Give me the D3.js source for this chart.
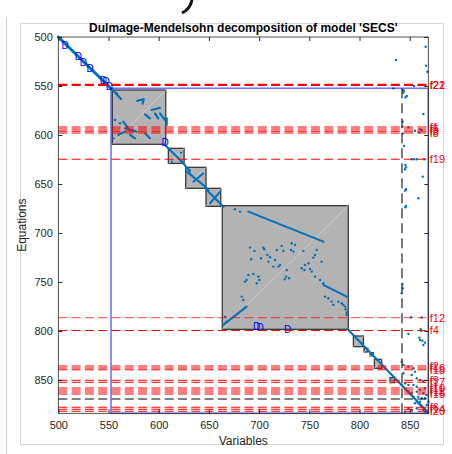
<!DOCTYPE html>
<html>
<head>
<meta charset="utf-8">
<script src="https://cdn.jsdelivr.net/npm/d3@7"></script>
<style>
  html, body { margin: 0; padding: 0; background: #fff; }
  svg { display: block; font-family: "Liberation Sans", Arial, Helvetica, sans-serif; }
</style>
</head>
<body>
<div id="chart"></div>
<script>
// axis ticks
const xTicks = [500, 550, 600, 650, 700, 750, 800, 850];
const yTicks = [500, 550, 600, 650, 700, 750, 800, 850];

// fine blocks of the decomposition: [colStart, colEnd, rowStart, rowEnd]
const blocks = [
  [553.8, 607, 554.1, 609.5],
  [609.6, 625.3, 613.6, 629],
  [626.9, 647.1, 633, 654.4],
  [647.1, 661.8, 654.4, 672.8],
  [663.3, 788.8, 672.1, 798.3],
  [793.9, 803.9, 805.1, 816],
  [804.5, 808.2, 817.7, 821.4],
  [810.5, 813.8, 822.1, 825.5],
  [814.8, 822.1, 828.9, 838.1],
  [830.4, 834.7, 847.6, 852.7]
];

// coarse (square) block outline: [colStart, colEnd, rowStart, rowEnd]
const coarseBlock = [552.5, 868.5, 552.3, 884];

// dense runs of nonzeros: [col0, row0, col1, row1]
const runs = [
  [500, 500, 552, 552],
  [553.2, 553.1, 562.5, 563.3],
  [578.5, 565, 585, 563.5],
  [585, 563.5, 584, 568],
  [593, 574.5, 601.3, 572.2],
  [596.3, 577.9, 599.6, 583],
  [601.3, 577.9, 606.3, 584.7],
  [586.4, 578.9, 591.3, 583],
  [564.7, 586.4, 569.7, 593.2],
  [566.4, 593.2, 578.1, 596.6],
  [559.8, 600, 566.4, 596.6],
  [571.4, 600, 576.4, 603.4],
  [586.4, 598.3, 591.3, 603.4],
  [608, 583, 608, 589.8],
  [606.3, 610.2, 611.3, 615.3],
  [611.3, 615.3, 624.6, 628.9],
  [624.6, 628.9, 631.2, 637.4],
  [627.9, 637.4, 646.2, 652.6],
  [634.5, 647.7, 644.4, 639.1],
  [646.1, 652.7, 649.4, 656.1],
  [647.8, 656.1, 662.7, 671.4],
  [651.1, 669.7, 661, 657.9],
  [689.3, 678.2, 764, 708.8],
  [664.4, 793.8, 687.6, 775.1],
  [764, 753, 787.2, 764.9],
  [788.5, 798.5, 868.5, 883.5],
  [857, 872, 868, 883]
];

// single nonzeros: [col, row]
const nonzeros = [
  [664.4, 673.1], [676, 675.8], [681, 678.2],
  [691, 714.9], [695.3, 718.3], [692, 726.8], [704.2, 714.9], [705.2, 716.6],
  [701.9, 725.8], [708.2, 722.4], [710.9, 724.8], [709.2, 729.2], [717.5, 717.3],
  [715.9, 727.5], [714.2, 734.3], [722.5, 713.2], [724.2, 718.3], [720.8, 732.6],
  [727.5, 737.7], [719.2, 734.3], [732.5, 710.5], [735.8, 712.2], [734.1, 719],
  [731.8, 717.3], [744.1, 718.3], [745.7, 732.6], [745.1, 737.7], [742.4, 736],
  [749.1, 730.9], [750.7, 736.7], [755.7, 722.4], [757.4, 717.3], [754, 725.1],
  [762.3, 729.2], [726.8, 744.5], [729.8, 746.2], [725.5, 747.2],
  [689.3, 742.8], [694.3, 741.8], [686, 749.6], [687.6, 747.9], [699.3, 744.5],
  [700.3, 747.9], [697.6, 751.3], [752.4, 739.4], [755.7, 744.5], [760.7, 747.9],
  [764, 751.3], [765.7, 764.9], [769, 766.6], [772.3, 770], [774, 773.4],
  [778.9, 770], [782.3, 771.7], [783.9, 773.4], [785.6, 775.1], [786.2, 777.8],
  [787.2, 781.2], [787.2, 783.6], [666.1, 785.3], [667.7, 790.4], [682.7, 764.9],
  [684.3, 768.3], [556.5, 584.7], [561.5, 588], [554.8, 603.4], [558.2, 557.4],
  [613, 627.2], [622.2, 618], [630.5, 635.7],
  [865.9, 509.9], [836.4, 523.5], [866.3, 529.3], [867.6, 535.4], [833.7, 552.4],
  [854.3, 550], [843, 554.1], [844.3, 554.8], [843.7, 556.8], [847, 560.2],
  [845.7, 561.6], [863.6, 578.6], [843, 586.4], [842.7, 591.5], [848.7, 592.2],
  [855.3, 595.6], [860.3, 594.2], [862, 594.9], [859.3, 597.3], [843, 598.3],
  [844.3, 611.2], [852, 624.8], [854.3, 624.8], [857, 624.8], [864.3, 624.8],
  [845.7, 630.6], [846.3, 633], [845.4, 635], [863, 642.5], [846.3, 655.4],
  [845.4, 656.8], [858.6, 664.6], [846.3, 672.4], [845.7, 673.8], [842.7, 752],
  [843, 756.4], [842, 761.5], [851.3, 786], [861.9, 786.3], [860.9, 798.2],
  [848.7, 803.1], [861.3, 799.7], [860.3, 809.2], [863.6, 814.3], [859.6, 806.8],
  [862.6, 809.9], [865.2, 811.9],
  [842, 831.3], [843.7, 834.7], [848.7, 836.4], [853.7, 838.1], [855.3, 841.5],
  [852, 844.9], [857, 848.3], [860.3, 850], [863.6, 851.7], [865.3, 858.5],
  [848.7, 861.9], [852, 863.6], [857, 861.9], [853.7, 867], [858.6, 867],
  [862, 868.7], [865.3, 868.7], [860.3, 872.1], [855.3, 873.8], [866.9, 875.5],
  [848.7, 878.9], [852, 880.6], [857, 878.9], [863.6, 880.6], [845.4, 882.3],
  [865.3, 882.3], [843.7, 843.2], [842, 855.1], [845.4, 853.4], [848.7, 855.1],
  [853.7, 855.1], [857, 856.8], [860.3, 860.2], [863.6, 863.6], [866.9, 865.3],
  [868.6, 872.1]
];

// "D" markers: [col, row]
const dMarks = [
  [506.7, 508.2], [519.9, 520.1], [524.9, 525.8], [531.6, 531.9], [544.8, 543.9],
  [547.5, 545.6], [550.8, 550.7], [606.3, 607.9], [697.6, 795.5], [700.9, 796.2],
  [728.5, 798.2]
];

// red dashed rows and their names
const fRows = [548.5, 549.2, 591.8, 593.9, 596, 598, 624.8, 786.4, 799.5, 835.7, 837.8,
  839.5, 850.3, 852.3, 858.2, 860.2, 862.2, 864.3, 877.9, 879.9, 881.9];
const fNames = ["f21", "f22", "f1", "f5", "f3", "f8", "f19", "f12", "f4", "f2", "f16",
  "f18", "f9", "f17", "f10", "f11", "f13", "f15", "f6", "f14", "f20"];

// black dashed separators
const sepRow = 869.4;
const sepCol = 842.3;

const width = 452, height = 454;
const plot = { left: 58.3, right: 428.3, top: 37, bottom: 413.3 };

const x = d3.scaleLinear().domain([500, 868.5]).range([plot.left, plot.right]);
const y = d3.scaleLinear().domain([500, 884]).range([plot.top, plot.bottom]);

const svg = d3.select("#chart").append("svg")
  .attr("width", width)
  .attr("height", height);

// window frame
svg.append("line").attr("x1", 6.5).attr("x2", 6.5).attr("y1", 18).attr("y2", height)
  .attr("stroke", "#c8c8c8");
svg.append("rect").attr("x", 20.5).attr("y", 23.5).attr("width", 423).attr("height", 421)
  .attr("fill", "#fff").attr("stroke", "#d4d4d4");
svg.append("path").attr("d", "M192,0 C191,5 188,10 182,13")
  .attr("fill", "none").attr("stroke", "#111").attr("stroke-width", 3);

const g = svg.append("g");

// gray blocks
g.selectAll("rect.block").data(blocks).enter().append("rect")
  .attr("class", "block")
  .attr("x", d => x(d[0]))
  .attr("y", d => y(d[2]))
  .attr("width", d => x(d[1]) - x(d[0]))
  .attr("height", d => y(d[3]) - y(d[2]))
  .attr("fill", "#b3b3b3")
  .attr("stroke", "#3a3a3a")
  .attr("stroke-width", 1.3);

g.selectAll("line.anti").data(blocks).enter().append("line")
  .attr("x1", d => x(d[1])).attr("y1", d => y(d[2]))
  .attr("x2", d => x(d[0])).attr("y2", d => y(d[3]))
  .attr("stroke", "#d6d6d6").attr("stroke-width", 0.7);

// nonzeros
g.selectAll("line.run").data(runs).enter().append("line")
  .attr("x1", d => x(d[0])).attr("y1", d => y(d[1]))
  .attr("x2", d => x(d[2])).attr("y2", d => y(d[3]))
  .attr("stroke", "#0072BD")
  .attr("stroke-width", (d, i) => i === 0 ? 3 : 2.1)
  .attr("stroke-linecap", "round");

g.selectAll("circle.nz").data(nonzeros).enter().append("circle")
  .attr("cx", d => x(d[0])).attr("cy", d => y(d[1]))
  .attr("r", 1.2).attr("fill", "#0072BD");

g.selectAll("text.dm").data(dMarks).enter().append("text")
  .attr("x", d => x(d[0])).attr("y", d => y(d[1]) + 3.5)
  .attr("text-anchor", "middle")
  .attr("font-size", "10px")
  .attr("fill", "#0000ff")
  .text("D");

// coarse block outline
g.append("rect")
  .attr("x", x(coarseBlock[0])).attr("y", y(coarseBlock[2]))
  .attr("width", x(coarseBlock[1]) - x(coarseBlock[0]))
  .attr("height", y(coarseBlock[3]) - y(coarseBlock[2]))
  .attr("fill", "none").attr("stroke", "#0000ff")
  .attr("stroke-opacity", 0.55).attr("stroke-width", 1.6);

// black dashed separators
g.append("line")
  .attr("x1", x(sepCol)).attr("x2", x(sepCol))
  .attr("y1", y(coarseBlock[2])).attr("y2", plot.bottom)
  .attr("stroke", "#333").attr("stroke-width", 1.3)
  .attr("stroke-dasharray", "10,5");
g.append("line")
  .attr("x1", plot.left).attr("x2", plot.right)
  .attr("y1", y(sepRow)).attr("y2", y(sepRow))
  .attr("stroke", "#000").attr("stroke-width", 1.1)
  .attr("stroke-dasharray", "9,4.3");

// red dashed rows
const faint = new Set(["f12"]);
g.selectAll("line.f").data(fRows).enter().append("line")
  .attr("x1", plot.left).attr("x2", plot.right)
  .attr("y1", d => y(d)).attr("y2", d => y(d))
  .attr("stroke", "#ff0000")
  .attr("stroke-width", (d, i) => fNames[i] === "f22" || fNames[i] === "f21" ? 1.6 : 1.1)
  .attr("stroke-opacity", (d, i) => faint.has(fNames[i]) ? 0.6 : 1)
  .attr("stroke-dasharray", "9,4.3");

g.selectAll("text.f").data(fRows).enter().append("text")
  .attr("x", plot.right + 1.5)
  .attr("y", d => y(d) + 4)
  .attr("font-size", "11px")
  .attr("fill", "#ff0000")
  .text((d, i) => fNames[i]);

// axes
const tickColor = "#262626";
const axB = svg.append("g").attr("transform", `translate(0,${plot.bottom})`)
  .call(d3.axisBottom(x).tickValues(xTicks).tickSize(-4).tickSizeOuter(0).tickPadding(7.5));
const axT = svg.append("g").attr("transform", `translate(0,${plot.top})`)
  .call(d3.axisTop(x).tickValues(xTicks).tickSize(-4).tickSizeOuter(0).tickFormat(""));
const axL = svg.append("g").attr("transform", `translate(${plot.left},0)`)
  .call(d3.axisLeft(y).tickValues(yTicks).tickSize(-4).tickSizeOuter(0).tickPadding(5.5));
const axR = svg.append("g").attr("transform", `translate(${plot.right},0)`)
  .call(d3.axisRight(y).tickValues(yTicks).tickSize(-4).tickSizeOuter(0).tickFormat(""));

[axB, axT, axL, axR].forEach(a => {
  a.select(".domain").remove();
  a.selectAll(".tick line").attr("stroke", tickColor);
  a.selectAll(".tick text")
    .attr("fill", tickColor)
    .attr("font-size", "11px")
    .attr("font-family", "'Liberation Sans', Arial, sans-serif");
});

svg.append("rect")
  .attr("x", plot.left).attr("y", plot.top)
  .attr("width", plot.right - plot.left).attr("height", plot.bottom - plot.top)
  .attr("fill", "none").attr("stroke", tickColor).attr("stroke-width", 0.8);

// titles
svg.append("text")
  .attr("x", (plot.left + plot.right) / 2).attr("y", 32)
  .attr("text-anchor", "middle")
  .attr("font-size", "12px").attr("font-weight", "bold")
  .attr("fill", "#000")
  .text("Dulmage-Mendelsohn decomposition of model 'SECS'");

svg.append("text")
  .attr("x", (plot.left + plot.right) / 2).attr("y", 445)
  .attr("text-anchor", "middle")
  .attr("font-size", "12px").attr("fill", tickColor)
  .text("Variables");

svg.append("text")
  .attr("transform", `translate(26,${(plot.top + plot.bottom) / 2}) rotate(-90)`)
  .attr("text-anchor", "middle")
  .attr("font-size", "12px").attr("fill", tickColor)
  .text("Equations");
</script>
</body>
</html>
